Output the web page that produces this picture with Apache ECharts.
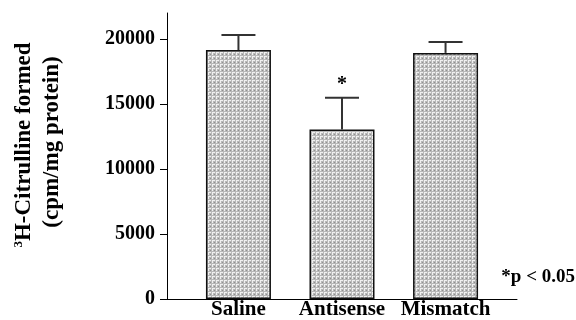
<!DOCTYPE html>
<html>
<head>
<meta charset="utf-8">
<script src="https://cdn.jsdelivr.net/npm/echarts@6/dist/echarts.min.js"></script>
<style>html,body{margin:0;padding:0;background:#fff}#c{width:576px;height:320px}</style>
</head>
<body>
<div id="c"></div>
<script>
var categories = ['Saline', 'Antisense', 'Mismatch'];
var means = [19150, 13030, 18930];
var errorTops = [20300, 15480, 19770];
var significance = ['', '*', ''];
var yTicks = [0, 5000, 10000, 15000, 20000];

var FONT = '"Liberation Serif", "DejaVu Serif", serif';

// dotted grey fill pattern
var pc = document.createElement('canvas');
pc.width = 4; pc.height = 4;
var g = pc.getContext('2d');
g.fillStyle = '#b8b8b8'; g.fillRect(0, 0, 4, 4);
g.fillStyle = '#f0f0f0';
g.fillRect(0, 0, 3, 1);
g.fillRect(0, 0, 1, 3);
g.fillStyle = '#909090';
g.fillRect(2, 2, 1, 1);

var chart = echarts.init(document.getElementById('c'), null, {renderer: 'canvas'});

var barData = means.map(function (v, i) { return [i + 1, v]; });
var errData = means.map(function (v, i) { return [i + 1, v, errorTops[i], significance[i]]; });

chart.setOption({
  animation: false,
  backgroundColor: '#ffffff',
  grid: {left: 167, right: 59, top: 13, bottom: 20},
  xAxis: {
    type: 'value', min: 0.31, max: 3.69,
    splitLine: {show: false},
    axisLine: {show: true, onZero: false, lineStyle: {color: '#000', width: 1}},
    axisTick: {show: false},
    axisLabel: {
      customValues: [1, 2, 3],
      formatter: function (v) { return categories[Math.round(v) - 1] || ''; },
      color: '#000', fontFamily: FONT, fontWeight: 'bold', fontSize: 21,
      margin: 0, lineHeight: 21
    }
  },
  yAxis: {
    type: 'value', min: 0, max: 22000,
    splitLine: {show: false},
    axisLine: {show: true, lineStyle: {color: '#000', width: 1}},
    axisTick: {show: true, customValues: yTicks, length: 7, lineStyle: {color: '#000'}},
    axisLabel: {
      customValues: yTicks,
      formatter: function (v) { return String(v); },
      color: '#000', fontFamily: FONT, fontWeight: 'bold', fontSize: 20,
      margin: 12, padding: [0, 0, 7, 0]
    }
  },
  series: [
    {
      type: 'bar',
      data: barData,
      barWidth: 65,
      itemStyle: {
        color: {image: pc, repeat: 'repeat'},
        borderColor: '#111', borderWidth: 1.5
      }
    },
    {
      type: 'custom',
      data: errData,
      z: 5,
      renderItem: function (params, api) {
        var x = api.value(0);
        var p0 = api.coord([x, api.value(1)]);
        var p1 = api.coord([x, api.value(2)]);
        var half = 17;
        var children = [
          {type: 'line', shape: {x1: p0[0], y1: p0[1], x2: p1[0], y2: p1[1]},
           style: {stroke: '#333', lineWidth: 2}},
          {type: 'line', shape: {x1: p1[0] - half, y1: p1[1], x2: p1[0] + half, y2: p1[1]},
           style: {stroke: '#333', lineWidth: 2}}
        ];
        var s = significance[params.dataIndex];
        if (s) {
          children.push({type: 'text', x: p1[0], y: p1[1] - 13,
            style: {text: s, fill: '#000', font: 'bold 20px ' + FONT,
                    textAlign: 'center', textVerticalAlign: 'middle'}});
        }
        return {type: 'group', children: children};
      }
    }
  ],
  graphic: [
    {
      type: 'text', x: 24, y: 145, rotation: Math.PI / 2,
      style: {
        text: '{s|3}{m|H-Citrulline formed}',
        textAlign: 'center', textVerticalAlign: 'middle',
        rich: {
          s: {font: 'bold 13px ' + FONT, fill: '#000', verticalAlign: 'top'},
          m: {font: 'bold 23px ' + FONT, fill: '#000'}
        }
      }
    },
    {
      type: 'text', x: 52, y: 142, rotation: Math.PI / 2,
      style: {
        text: '(cpm/mg protein)',
        font: 'bold 23px ' + FONT, fill: '#000',
        textAlign: 'center', textVerticalAlign: 'middle'
      }
    },
    {
      type: 'text', x: 575, y: 277,
      style: {
        text: '*p < 0.05',
        font: 'bold 19px ' + FONT, fill: '#000',
        textAlign: 'right', textVerticalAlign: 'middle'
      }
    }
  ]
});
</script>
</body>
</html>
